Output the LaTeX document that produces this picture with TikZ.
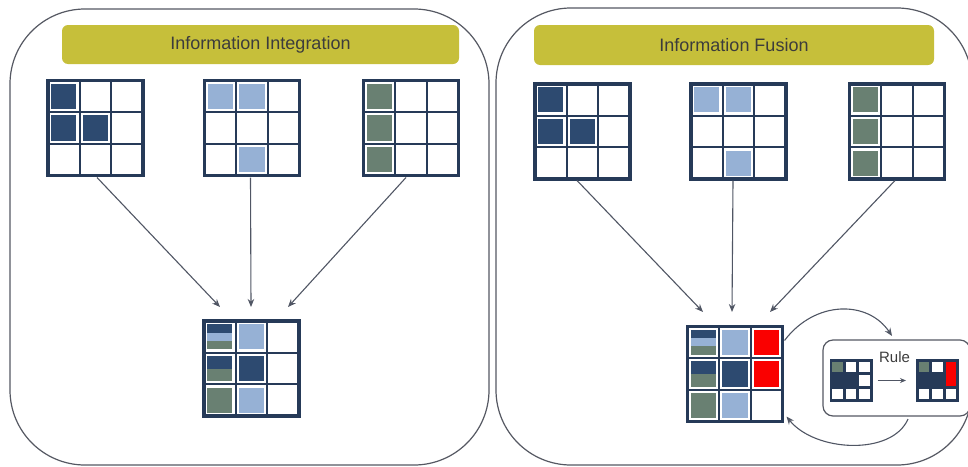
\documentclass[tikz,border=0pt]{standalone}
\usepackage{fontspec}
\setmainfont{Liberation Sans}
\usetikzlibrary{calc,arrows.meta}

\definecolor{navyc}{RGB}{45,74,112}
\definecolor{lblue}{RGB}{150,177,213}
\definecolor{sage}{RGB}{105,128,114}
\definecolor{gridc}{RGB}{38,58,88}
\definecolor{olive}{RGB}{198,191,58}
\definecolor{framec}{RGB}{85,88,98}
\definecolor{arrowc}{RGB}{80,86,100}
\definecolor{hotred}{RGB}{250,0,0}
\definecolor{textc}{RGB}{60,60,60}

% horizontal band of a cell: node, col, row, colour, cell size, inset, from, to
\newcommand\band[8]{%
  \fill[#4] ($(#1.north west)+({#2*#5+#6},{#3*#5+#6+(#5-2*#6)*#7})$) rectangle
            ($(#1.north west)+({(#2+1)*#5-#6},{#3*#5+#6+(#5-2*#6)*#8})$);}
% whole inset cell of a large grid
\newcommand\gcell[4]{\band{#1}{#2}{#3}{#4}{31.667}{3.3}{0}{1}}
% inset cell of a small grid
\newcommand\scell[4]{\band{#1}{#2}{#3}{#4}{13.667}{1.6}{0}{1}}
% inner lines of a 3x3 grid
\newcommand\innerlines[2]{%
  \foreach \f in {0.33333,0.66667}{%
    \draw[#2] ($(#1.north west)!\f!(#1.north east)$) -- ($(#1.south west)!\f!(#1.south east)$);
    \draw[#2] ($(#1.north west)!\f!(#1.south west)$) -- ($(#1.north east)!\f!(#1.south east)$);
  }}

\tikzset{
  panel/.style={draw=framec, line width=1.2pt, rounded corners=75pt},
  header/.style={fill=olive, rounded corners=6pt, inner sep=0pt, text=textc,
    font=\fontsize{18}{21}\selectfont},
  biggrid/.style={draw=gridc, line width=3.2pt, minimum size=95pt, inner sep=0pt, outer sep=0pt},
  smallgrid/.style={fill=gridc, draw=gridc, line width=2pt, minimum size=41pt, inner sep=0pt, outer sep=0pt},
  bigline/.style={draw=gridc, line width=2pt},
  flow/.style={draw=arrowc, line width=1.1pt, -{Stealth[length=8pt,width=6.5pt]}},
  rulebox/.style={draw=framec, line width=1.2pt, rounded corners=10pt}
}

\begin{document}
\begin{tikzpicture}[x=1pt,y=-1pt]
\useasboundingbox (0,0) rectangle (968,466);

% two panels
\draw[panel] (10,9) rectangle (489,465);
\draw[panel] (496,8) rectangle (972,465);

% headers
\node[header, minimum width=397pt, minimum height=39pt] (lh) at (260.5,44.5) {Information Integration};
\node[header, minimum width=400pt, minimum height=40pt] (rh) at (734,45) {Information Fusion};

% ---------- left panel: source grids ----------
\node[biggrid] (lg1) at (95.5,128) {};
\node[biggrid] (lg2) at (252,128) {};
\node[biggrid] (lg3) at (411,128) {};
\gcell{lg1}{0}{0}{navyc}\gcell{lg1}{0}{1}{navyc}\gcell{lg1}{1}{1}{navyc}
\gcell{lg2}{0}{0}{lblue}\gcell{lg2}{1}{0}{lblue}\gcell{lg2}{1}{2}{lblue}
\gcell{lg3}{0}{0}{sage}\gcell{lg3}{0}{1}{sage}\gcell{lg3}{0}{2}{sage}
\innerlines{lg1}{bigline}\innerlines{lg2}{bigline}\innerlines{lg3}{bigline}

% left panel: integrated grid
\node[biggrid] (lm) at (251.5,368.5) {};
\band{lm}{0}{0}{navyc}{31.667}{3.3}{0}{0.34}
\band{lm}{0}{0}{lblue}{31.667}{3.3}{0.34}{0.66}
\band{lm}{0}{0}{sage}{31.667}{3.3}{0.66}{1}
\gcell{lm}{1}{0}{lblue}
\band{lm}{0}{1}{navyc}{31.667}{3.3}{0}{0.5}
\band{lm}{0}{1}{sage}{31.667}{3.3}{0.5}{1}
\gcell{lm}{1}{1}{navyc}
\gcell{lm}{0}{2}{sage}\gcell{lm}{1}{2}{lblue}
\innerlines{lm}{bigline}

\coordinate (la1) at (220,307);
\coordinate (la2) at (251,307);
\coordinate (la3) at (288,307);
\draw[flow] ($(lg1.south)+(1.5,2)$) -- (la1);
\draw[flow] ($(lg2.south)+(-1.5,2)$) -- (la2);
\draw[flow] ($(lg3.south)+(-5,2)$) -- (la3);

% ---------- right panel: source grids ----------
\node[biggrid] (rg1) at (582.5,131.5) {};
\node[biggrid] (rg2) at (738.5,131.5) {};
\node[biggrid] (rg3) at (897,131.5) {};
\gcell{rg1}{0}{0}{navyc}\gcell{rg1}{0}{1}{navyc}\gcell{rg1}{1}{1}{navyc}
\gcell{rg2}{0}{0}{lblue}\gcell{rg2}{1}{0}{lblue}\gcell{rg2}{1}{2}{lblue}
\gcell{rg3}{0}{0}{sage}\gcell{rg3}{0}{1}{sage}\gcell{rg3}{0}{2}{sage}
\innerlines{rg1}{bigline}\innerlines{rg2}{bigline}\innerlines{rg3}{bigline}

% right panel: fused grid
\node[biggrid] (rm) at (735,374) {};
\band{rm}{0}{0}{navyc}{31.667}{3.3}{0}{0.34}
\band{rm}{0}{0}{lblue}{31.667}{3.3}{0.34}{0.66}
\band{rm}{0}{0}{sage}{31.667}{3.3}{0.66}{1}
\gcell{rm}{1}{0}{lblue}\gcell{rm}{2}{0}{hotred}
\band{rm}{0}{1}{navyc}{31.667}{3.3}{0}{0.5}
\band{rm}{0}{1}{sage}{31.667}{3.3}{0.5}{1}
\gcell{rm}{1}{1}{navyc}\gcell{rm}{2}{1}{hotred}
\gcell{rm}{0}{2}{sage}\gcell{rm}{1}{2}{lblue}
\innerlines{rm}{bigline}

\coordinate (ra1) at (703,312);
\coordinate (ra2) at (732,312);
\coordinate (ra3) at (770,312);
\draw[flow] ($(rg1.south)+(-5.5,1.5)$) -- (ra1);
\draw[flow] ($(rg2.south)+(-5.5,1.5)$) -- (ra2);
\draw[flow] ($(rg3.south)+(-2,1.5)$) -- (ra3);

% ---------- rule box ----------
\draw[rulebox] (823,340) rectangle (970,416);
\node[font=\fontsize{15}{18}\selectfont, text=textc] (rule) at (894.5,357) {Rule};

% condition pattern: navy block with green corner
\node[smallgrid] (rs1) at (851,380.5) {};
\scell{rs1}{0}{0}{sage}\scell{rs1}{1}{0}{white}\scell{rs1}{2}{0}{white}
\scell{rs1}{2}{1}{white}
\scell{rs1}{0}{2}{white}\scell{rs1}{1}{2}{white}\scell{rs1}{2}{2}{white}

% result pattern: same block with a red column added
\node[smallgrid] (rs2) at (937.5,380.5) {};
\scell{rs2}{0}{0}{sage}\scell{rs2}{1}{0}{white}
\band{rs2}{2}{0}{hotred}{13.667}{1.6}{0}{2.306}
\scell{rs2}{0}{2}{white}\scell{rs2}{1}{2}{white}\scell{rs2}{2}{2}{white}

\draw[draw=arrowc, line width=1pt, -{Stealth[length=6pt,width=5pt]}]
  ($(rs1.east)+(6,0)$) -- ($(rs2.west)+(-11,0)$);

% feedback loop between fused grid and rule box
\coordinate (rtop) at (892,336);
\coordinate (rbot) at (908,419);
\draw[flow] ($(rm.north east)+(2,14)$) .. controls (815,300) and (868,300) .. (rtop);
\draw[flow] (rbot) .. controls (892,456) and (815,452) .. ($(rm.south east)+(4,-5)$);
\end{tikzpicture}
\end{document}
